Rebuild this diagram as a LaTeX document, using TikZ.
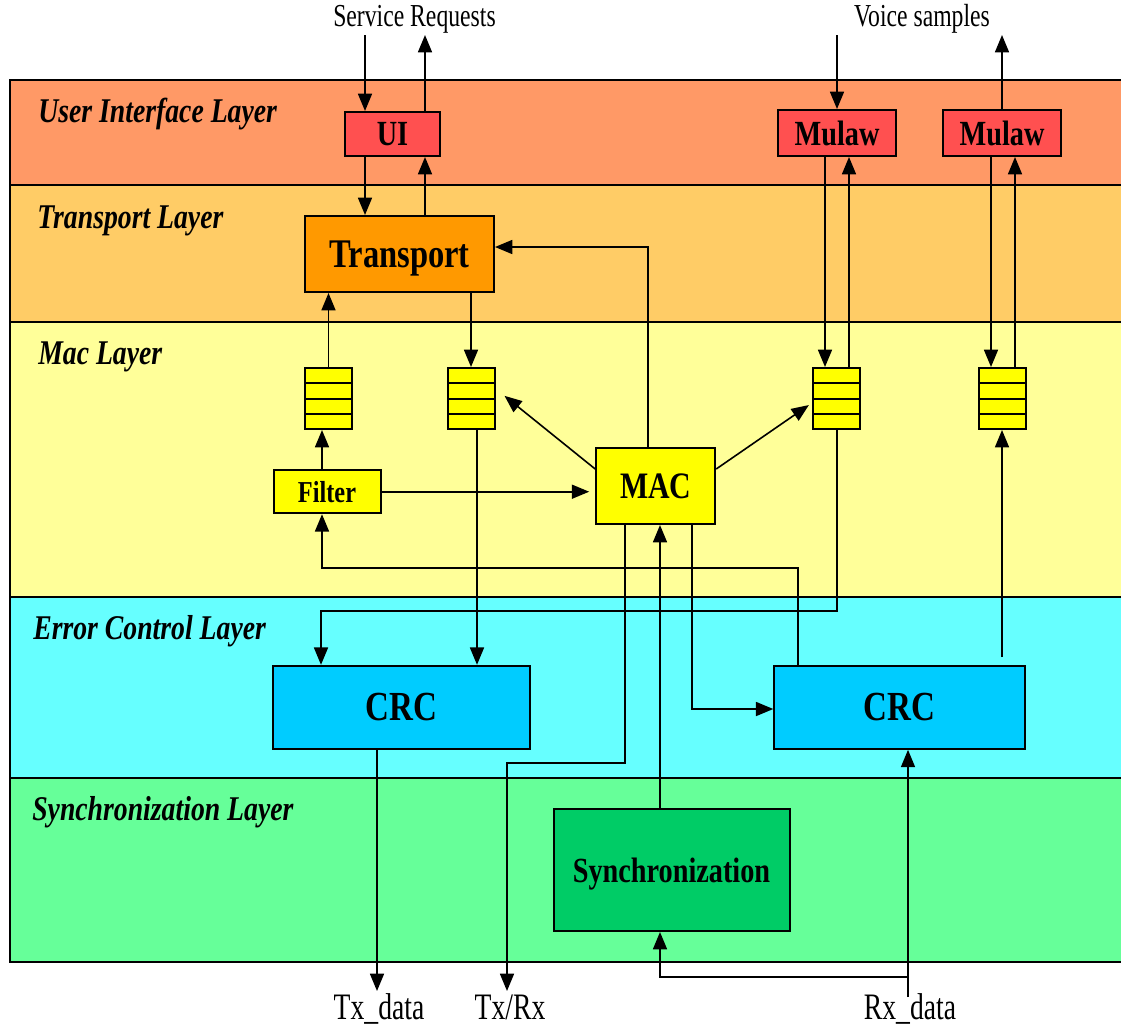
\documentclass[tikz,border=0pt]{standalone}
\usepackage{fontspec}
\setmainfont{Liberation Serif}[FakeStretch=0.8]
\newfontfamily\regf[FakeStretch=0.74]{Liberation Serif}
\usetikzlibrary{arrows.meta,calc}
\definecolor{bandUI}{HTML}{FF9966}
\definecolor{bandTR}{HTML}{FFCC66}
\definecolor{bandMAC}{HTML}{FFFF99}
\definecolor{bandEC}{HTML}{66FFFF}
\definecolor{bandSY}{HTML}{66FF99}
\definecolor{boxRed}{HTML}{FF5050}
\definecolor{boxOrange}{HTML}{FF9900}
\definecolor{boxYellow}{HTML}{FFFF00}
\definecolor{boxBlue}{HTML}{00CCFF}
\definecolor{boxGreen}{HTML}{00CC66}
\begin{document}
\begin{tikzpicture}[x=0.75pt,y=-0.75pt,
  bandline/.style={line width=2pt},
  box/.style={draw, line width=1.5pt, inner sep=0pt, text depth=0pt, font=\bfseries\fontsize{26.5}{28}\selectfont},
  queue/.style={draw, line width=1.5pt, fill=boxYellow, minimum width=35.25pt, minimum height=45.75pt, inner sep=0pt,
    path picture={\foreach \f in {0.25,0.5,0.75}
      \draw[line width=1.5pt] ($(path picture bounding box.north west)!\f!(path picture bounding box.south west)$) -- ($(path picture bounding box.north east)!\f!(path picture bounding box.south east)$);}},
  layerlabel/.style={anchor=base west, inner sep=0pt, font=\bfseries\itshape\fontsize{26}{28}\selectfont},
  toplabel/.style={anchor=base, inner sep=0pt, font=\regf\fontsize{24}{26}\selectfont},
  botlabel/.style={anchor=base, inner sep=0pt, font=\regf\fontsize{28}{30}\selectfont},
  arr/.style={line width=1.2pt, -{Triangle[length=13pt,width=10.5pt]}}
]
\useasboundingbox (0,0) rectangle (1121,1026);
\fill[white] (0,0) rectangle (1121,1026);
% bands
\fill[bandUI] (10,80) rectangle (1121,185);
\fill[bandTR] (10,185) rectangle (1121,322);
\fill[bandMAC] (10,322) rectangle (1121,597);
\fill[bandEC] (10,597) rectangle (1121,778);
\fill[bandSY] (10,778) rectangle (1121,962);
\foreach \yy in {80,185,322,597,778,962} \draw[bandline] (10,\yy) -- (1121,\yy);
\draw[bandline] (10,79) -- (10,963);
% layer labels
\node[layerlabel] (lUI) at (38,122) {User Interface Layer};
\node[layerlabel] (lTR) at (37,228) {Transport Layer};
\node[layerlabel] (lMAC) at (38,364) {Mac Layer};
\node[layerlabel] (lEC) at (33,639) {Error Control Layer};
\node[layerlabel] (lSY) at (32,820) {Synchronization Layer};
% nodes
\node[box, fill=boxRed, minimum width=71.25pt, minimum height=33pt] (ui) at (392.5,134) {UI};
\node[box, fill=boxRed, minimum width=88.5pt, minimum height=34.5pt] (mu1) at (837,133) {Mulaw};
\node[box, fill=boxRed, minimum width=88.5pt, minimum height=34.5pt] (mu2) at (1002,133) {Mulaw};
\node[box, fill=boxOrange, minimum width=141.75pt, minimum height=57pt, font=\bfseries\fontsize{30.5}{32}\selectfont] (tr) at (399.5,254) {Transport};
\node[queue] (q1) at (328.5,398.5) {};
\node[queue] (q2) at (471,398.5) {};
\node[queue] (q3) at (836.7,398.5) {};
\node[queue] (q4) at (1002,398.5) {};
\node[box, fill=boxYellow, minimum width=80.25pt, minimum height=32.25pt, font=\bfseries\fontsize{22.8}{24}\selectfont] (f) at (327,491.7) {Filter};
\node[box, fill=boxYellow, minimum width=89.25pt, minimum height=57pt, font=\bfseries\fontsize{28}{30}\selectfont] (mac) at (655.7,486) {MAC};
\node[box, fill=boxBlue, minimum width=192.75pt, minimum height=62.25pt, font=\bfseries\fontsize{31}{33}\selectfont] (crc1) at (401.4,707.3) {CRC};
\node[box, fill=boxBlue, minimum width=188.25pt, minimum height=62.25pt, font=\bfseries\fontsize{31}{33}\selectfont] (crc2) at (899.8,707.3) {CRC};
\node[box, fill=boxGreen, minimum width=177pt, minimum height=91.5pt] (sync) at (671.5,870) {Synchronization};
% outer labels
\node[toplabel] (sr) at (414.5,26) {Service Requests};
\node[toplabel] (vs) at (922,26) {Voice samples};
\node[botlabel] (txd) at (379,1019) {Tx\_data};
\node[botlabel] (txrx) at (510,1019) {Tx/Rx};
\node[botlabel] (rxd) at (910,1019) {Rx\_data};
% coordinates
\coordinate (srIn) at (365,35);
\coordinate (srOut) at (425,35);
\coordinate (cA) at (365,0);
\coordinate (cB) at (425,0);
\coordinate (k1) at (648,247);
\coordinate (cq2) at (471,0);
\coordinate (cf) at (322,0);
\coordinate (k2) at (798,568);
\coordinate (k3) at (322,568);
\coordinate (cq2b) at (477,0);
\coordinate (k4) at (836.7,611);
\coordinate (k5) at (321,611);
\coordinate (k6) at (625,763);
\coordinate (k7) at (507,763);
\coordinate (txrxEnd) at (507,991);
\coordinate (k8) at (660,0);
\coordinate (k9) at (692,709);
\coordinate (txEnd) at (377,991);
\coordinate (rxIn) at (908,997);
\coordinate (k10) at (908,977);
\coordinate (k11) at (660,977);
\coordinate (c991) at (991,0);
\coordinate (c1015) at (1015,0);
\coordinate (c825) at (825,0);
\coordinate (c849) at (849,0);
\coordinate (vsIn) at (837,35);
\coordinate (vsOut) at (1002,35);
\coordinate (k12) at (1002,657);
% connectors
\draw[arr] (srIn) -- (ui.north -| srIn);
\draw[arr] (ui.north -| srOut) -- (srOut);
\draw[arr] (ui.south -| cA) -- (tr.north -| cA);
\draw[arr] (tr.north -| cB) -- (ui.south -| cB);
\draw[arr] (mac.north -| k1) -- (k1) -- (tr.east |- k1);
\draw[arr] (tr.south -| cq2) -- (q2.north);
\draw[arr] (q1.north) -- (tr.south -| q1.north);
\draw[arr] (f.north -| cf) -- (q1.south -| cf);
\draw[arr, shorten >=4.5pt] (f.east) -- (mac.west |- f.east);
\draw[arr] ([yshift=12.75pt]mac.west) -- ([xshift=6.75pt,yshift=2pt]q2.east);
\draw[arr] ([yshift=12.75pt]mac.east) -- ([xshift=-2.5pt,yshift=-4.9pt]q3.west);
\draw[arr] (crc2.north -| k2) -- (k2) -- (k3) -- (f.south -| k3);
\draw[arr] (q2.south -| cq2b) -- (crc1.north -| cq2b);
\draw[arr] (q3.south) -- (k4) -- (k5) -- (crc1.north -| k5);
\draw[arr] (mac.south -| k6) -- (k6) -- (k7) -- (txrxEnd);
\draw[arr] (sync.north -| k8) -- (mac.south -| k8);
\draw[arr] (mac.south -| k9) -- (k9) -- (crc2.west |- k9);
\draw[arr] (crc1.south -| txEnd) -- (txEnd);
\draw[arr] (rxIn) -- (crc2.south -| rxIn);
\draw[arr] (k10) -- (k11) -- (sync.south -| k11);
\draw[arr] (mu2.south -| c991) -- (q4.north -| c991);
\draw[arr] (q4.north -| c1015) -- (mu2.south -| c1015);
\draw[arr] (mu1.south -| c825) -- (q3.north -| c825);
\draw[arr] (q3.north -| c849) -- (mu1.south -| c849);
\draw[arr] (vsIn) -- (mu1.north -| vsIn);
\draw[arr] (mu2.north -| vsOut) -- (vsOut);
\draw[arr] (k12) -- (q4.south -| k12);
\end{tikzpicture}
\end{document}
